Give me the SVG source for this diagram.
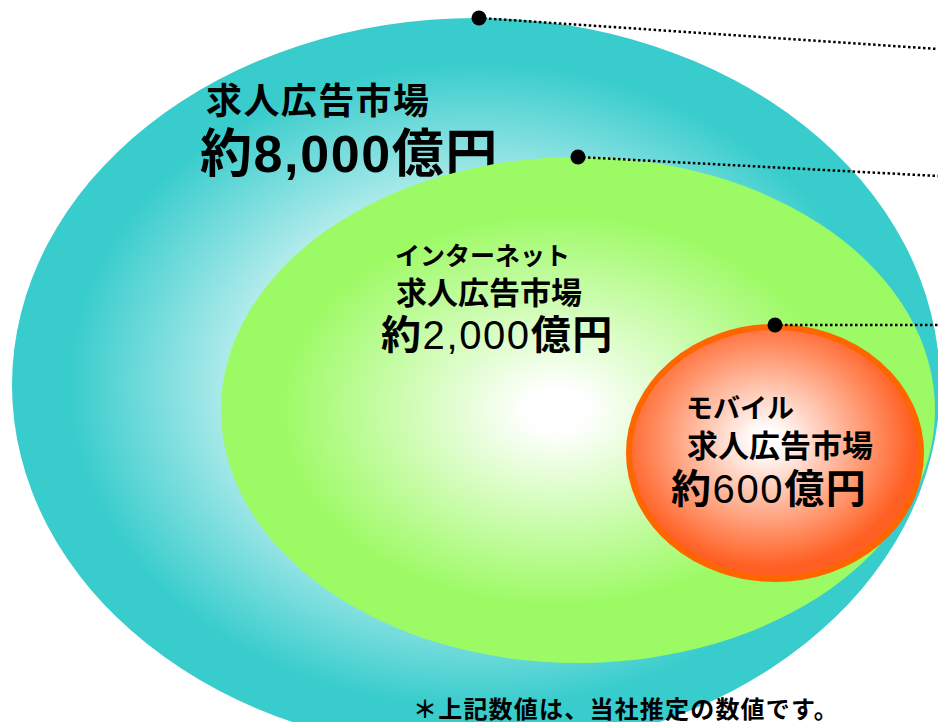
<svg xmlns="http://www.w3.org/2000/svg" width="938" height="722" viewBox="0 0 938 722">
<style>
.t{font-family:"Liberation Sans","Noto Sans CJK JP",sans-serif;fill:#000;}
.b{font-weight:bold;}
.lead{fill:none;stroke:#000;stroke-width:2.5;stroke-dasharray:2.5 2.5;}
.dot{fill:#000;}
</style>
<defs>
<radialGradient id="gTeal" cx="0.5" cy="0.5" r="0.5">
<stop offset="0.3" stop-color="#ffffff"/>
<stop offset="0.88" stop-color="#38CCCC"/>
</radialGradient>
<radialGradient id="gGreen" cx="0.47" cy="0.5" r="0.5">
<stop offset="0.08" stop-color="#ffffff"/>
<stop offset="0.78" stop-color="#9CFA64"/>
</radialGradient>
<radialGradient id="gOrange" cx="0.47" cy="0.45" r="0.55">
<stop offset="0.08" stop-color="#ffffff"/>
<stop offset="0.92" stop-color="#FF5F22"/>
</radialGradient>
</defs>
<rect width="938" height="722" fill="#ffffff"/>
<g id="outer">
<ellipse cx="476" cy="385" rx="464" ry="367" fill="url(#gTeal)"/>
<text class="t b" x="206" y="114" font-size="36" letter-spacing="1.4">求人広告市場</text>
<text class="t b" x="200" y="172" font-size="52" letter-spacing="1.6">約8,000億円</text>
</g>
<g id="internet">
<ellipse cx="578" cy="410" rx="357" ry="253" fill="url(#gGreen)"/>
<text class="t b" x="395" y="265" font-size="25">インターネット</text>
<text class="t b" x="396" y="304" font-size="31">求人広告市場</text>
<text class="t" x="381" y="349" font-size="40" letter-spacing="1.6"><tspan class="b">約</tspan>2,000<tspan class="b">億円</tspan></text>
</g>
<g id="mobile">
<ellipse cx="775" cy="453" rx="146" ry="126" fill="url(#gOrange)" stroke="#FF6600" stroke-width="6"/>
<text class="t b" x="686" y="418" font-size="27">モバイル</text>
<text class="t b" x="687" y="457" font-size="31">求人広告市場</text>
<text class="t" x="671" y="503" font-size="40" letter-spacing="1.6"><tspan class="b">約</tspan>600<tspan class="b">億円</tspan></text>
</g>
<g id="connectors">
<line class="lead" x1="479" y1="18" x2="938" y2="49"/>
<line class="lead" x1="578" y1="157" x2="938" y2="176"/>
<line class="lead" x1="775" y1="325" x2="938" y2="325"/>
<circle class="dot" cx="479" cy="18" r="7.5"/>
<circle class="dot" cx="578" cy="157" r="7.5"/>
<circle class="dot" cx="775" cy="325" r="7.5"/>
</g>
<g id="note">
<text class="t b" x="413" y="718" font-size="24" letter-spacing="1.2">＊上記数値は、当社推定の数値です。</text>
</g>
</svg>
